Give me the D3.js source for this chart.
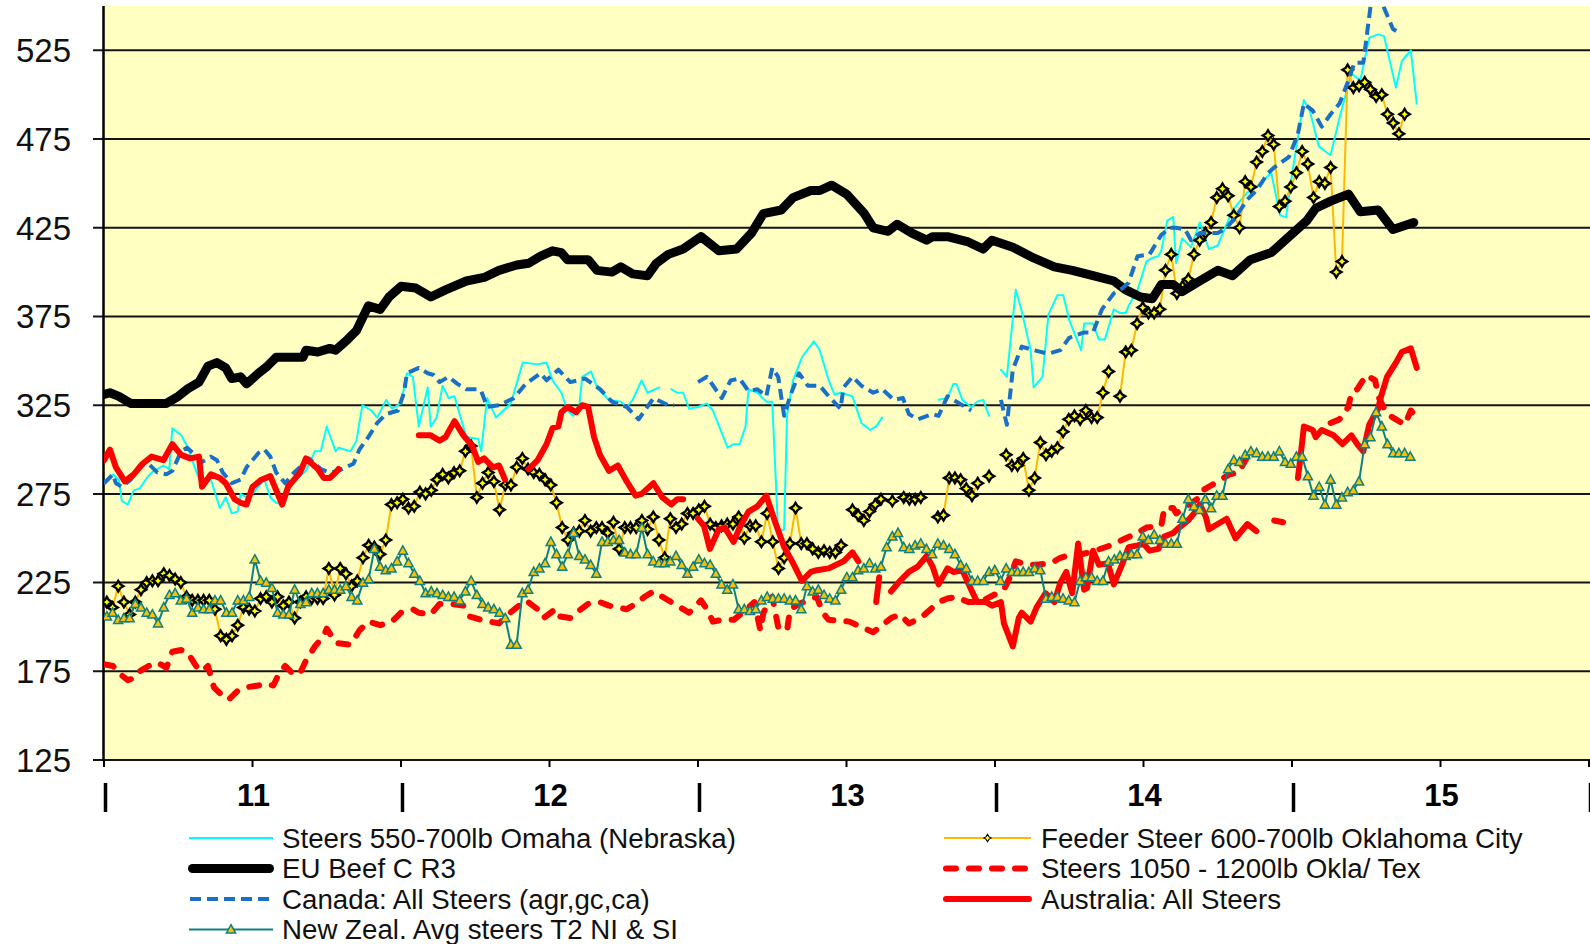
<!DOCTYPE html>
<html>
<head>
<meta charset="utf-8">
<title>Steer prices</title>
<style>
body { margin: 0; background: #fff; }
svg { display: block; font-family: "Liberation Sans", Arial, sans-serif; }
</style>
</head>
<body>
<svg id="chart" width="1590" height="944"></svg>
<script src="https://cdn.jsdelivr.net/npm/d3@7"></script>
<script>
// ---- data (year fraction, price) ; null = gap in the series ----
const omaha = [[2011.00,281],[2011.03,286],[2011.05,283],[2011.06,271],[2011.08,269],[2011.10,277],[2011.12,278],[2011.14,283],[2011.16,287],[2011.20,291],[2011.22,289],[2011.23,312],[2011.26,308],[2011.28,302],[2011.31,288],[2011.33,279],[2011.36,283],[2011.39,267],[2011.41,273],[2011.43,264],[2011.45,265],[2011.46,275],[2011.48,273],[2011.50,275],[2011.54,283],[2011.56,273],[2011.58,270],[2011.60,269],[2011.63,281],[2011.66,285],[2011.68,288],[2011.71,299],[2011.73,299],[2011.75,313],[2011.78,299],[2011.79,301],[2011.83,299],[2011.85,305],[2011.87,325],[2011.90,322],[2011.92,318],[2011.95,328],[2011.97,323],[2012.00,326],[2012.02,343],[2012.04,341],[2012.06,313],[2012.09,335],[2012.10,313],[2012.12,318],[2012.14,336],[2012.16,329],[2012.18,330],[2012.22,307],[2012.26,306],[2012.27,299],[2012.29,329],[2012.32,318],[2012.37,326],[2012.41,349],[2012.46,348],[2012.49,349],[2012.51,339],[2012.54,332],[2012.56,322],[2012.58,319],[2012.60,324],[2012.61,341],[2012.64,344],[2012.66,335],[2012.70,328],[2012.74,327],[2012.76,324],[2012.78,328],[2012.81,339],[2012.83,332],[2012.87,335],null,[2012.91,334],[2012.93,332],[2012.95,332],[2012.97,323],[2013.00,324],[2013.03,326],[2013.05,322],[2013.10,301],[2013.12,303],[2013.14,303],[2013.16,313],[2013.17,334],[2013.20,332],[2013.23,327],[2013.25,327],[2013.27,253],[2013.29,255],[2013.30,320],[2013.32,339],[2013.35,352],[2013.39,361],[2013.41,356],[2013.44,339],[2013.46,331],[2013.48,332],[2013.52,330],[2013.55,315],[2013.58,311],[2013.60,313],[2013.62,318],null,[2013.81,328],[2013.84,329],[2013.86,337],[2013.87,337],[2013.89,328],[2013.92,324],[2013.94,327],[2013.96,328],[2013.98,319],null,[2014.02,345],[2014.04,341],[2014.07,390],[2014.09,378],[2014.12,356],[2014.13,335],[2014.16,341],[2014.18,376],[2014.21,387],[2014.23,387],[2014.25,373],[2014.29,356],[2014.30,371],[2014.33,371],[2014.35,362],[2014.37,362],[2014.40,379],[2014.42,377],[2014.44,377],[2014.45,381],[2014.48,390],[2014.51,406],[2014.53,408],[2014.55,409],[2014.56,412],[2014.58,429],[2014.60,431],[2014.61,405],[2014.63,419],[2014.66,414],[2014.69,428],[2014.72,413],[2014.75,415],[2014.80,435],[2014.83,441],[2014.85,445],[2014.88,448],[2014.93,456],[2014.96,432],[2014.98,431],[2015.00,455],[2015.04,497],[2015.06,491],[2015.09,471],[2015.12,467],[2015.13,466],[2015.16,487],[2015.20,512],[2015.23,508],[2015.26,532],[2015.29,534],[2015.31,533],[2015.35,504],[2015.37,519],[2015.40,525],[2015.42,495]];

const euBeef = [[2011.00,331],[2011.02,332],[2011.05,330],[2011.09,326],[2011.12,326],[2011.16,326],[2011.21,326],[2011.25,330],[2011.28,334],[2011.32,338],[2011.35,347],[2011.38,349],[2011.41,346],[2011.43,340],[2011.46,341],[2011.48,337],[2011.52,343],[2011.55,347],[2011.58,352],[2011.67,352],[2011.68,356],[2011.72,355],[2011.76,357],[2011.78,356],[2011.82,362],[2011.85,367],[2011.89,381],[2011.93,379],[2011.96,386],[2012.00,392],[2012.05,391],[2012.10,386],[2012.15,390],[2012.22,395],[2012.28,397],[2012.33,401],[2012.39,404],[2012.43,405],[2012.47,409],[2012.51,412],[2012.54,411],[2012.56,407],[2012.63,407],[2012.66,401],[2012.71,400],[2012.74,403],[2012.78,399],[2012.83,398],[2012.86,405],[2012.90,410],[2012.95,413],[2013.01,420],[2013.07,412],[2013.13,413],[2013.18,422],[2013.22,433],[2013.28,435],[2013.32,442],[2013.38,446],[2013.41,446],[2013.45,449],[2013.50,444],[2013.56,433],[2013.59,425],[2013.64,423],[2013.67,427],[2013.72,422],[2013.77,418],[2013.79,420],[2013.84,420],[2013.91,417],[2013.96,413],[2013.99,418],[2014.06,414],[2014.13,408],[2014.20,403],[2014.26,401],[2014.33,398],[2014.40,395],[2014.44,390],[2014.49,386],[2014.53,385],[2014.56,393],[2014.60,393],[2014.63,389],[2014.69,395],[2014.75,401],[2014.80,398],[2014.86,407],[2014.93,411],[2014.99,420],[2015.05,429],[2015.08,436],[2015.13,440],[2015.19,444],[2015.23,434],[2015.29,435],[2015.34,424],[2015.41,428]];

const canada = [[2011.00,281],[2011.03,286],[2011.04,281],[2011.06,279],[2011.09,283],[2011.12,291],[2011.15,292],[2011.18,287],[2011.21,286],[2011.23,288],[2011.26,299],[2011.28,301],[2011.30,298],[2011.33,293],[2011.36,296],[2011.38,294],[2011.40,287],[2011.43,281],[2011.46,283],[2011.48,290],[2011.52,298],[2011.54,300],[2011.56,296],[2011.58,287],[2011.61,281],[2011.64,287],[2011.66,290],[2011.69,295],[2011.73,289],[2011.76,287],[2011.79,288],[2011.84,292],[2011.86,300],[2011.89,307],[2011.92,315],[2011.95,320],[2011.99,322],[2012.01,332],[2012.02,343],[2012.06,346],[2012.09,343],[2012.11,342],[2012.13,338],[2012.16,341],[2012.19,337],[2012.22,334],[2012.26,334],[2012.27,333],[2012.29,324],[2012.33,325],[2012.38,329],[2012.42,337],[2012.47,343],[2012.49,339],[2012.53,345],[2012.57,338],[2012.62,340],[2012.67,334],[2012.71,327],[2012.76,324],[2012.80,317],[2012.85,329],[2012.90,325],[2012.92,325],null,[2013.00,338],[2013.03,341],[2013.08,329],[2013.11,339],[2013.14,340],[2013.17,333],[2013.20,334],[2013.23,330],[2013.25,346],[2013.27,341],[2013.29,319],[2013.31,330],[2013.34,343],[2013.37,336],[2013.41,336],[2013.44,330],[2013.48,323],[2013.49,335],[2013.52,341],[2013.55,336],[2013.59,332],[2013.62,334],[2013.66,328],[2013.69,329],[2013.71,320],[2013.74,317],[2013.79,320],[2013.81,319],[2013.84,330],[2013.88,326],[2013.92,322],null,[2014.02,328],[2014.04,314],[2014.06,345],[2014.09,358],[2014.13,356],[2014.18,354],[2014.22,356],[2014.25,363],[2014.30,366],[2014.33,366],[2014.36,379],[2014.40,388],[2014.43,391],[2014.45,394],[2014.48,409],[2014.52,410],[2014.56,421],[2014.59,425],[2014.61,425],[2014.64,424],[2014.66,418],[2014.69,422],[2014.75,422],[2014.78,425],[2014.81,431],[2014.85,441],[2014.88,446],[2014.92,456],[2014.94,459],[2014.99,465],[2015.02,478],[2015.04,495],[2015.07,491],[2015.10,482],[2015.13,489],[2015.16,495],[2015.19,508],[2015.21,518],[2015.24,518],[2015.28,570],[2015.31,549],[2015.34,537],[2015.36,535]];

const oklaTex = [[2011.00,179],[2011.03,178],[2011.05,174],[2011.08,170],[2011.10,171],[2011.12,175],[2011.15,178],[2011.18,180],[2011.21,177],[2011.23,186],[2011.26,187],[2011.28,186],[2011.31,178],[2011.33,175],[2011.35,178],[2011.37,166],[2011.40,161],[2011.42,159],[2011.45,164],[2011.48,166],[2011.52,167],[2011.54,168],[2011.57,167],[2011.59,174],[2011.61,178],[2011.64,173],[2011.66,174],[2011.68,181],[2011.71,189],[2011.74,195],[2011.75,199],[2011.78,191],[2011.83,190],[2011.86,198],[2011.89,203],[2011.93,201],[2011.97,203],[2012.00,208],[2012.04,210],[2012.06,208],[2012.10,207],[2012.13,213],[2012.17,213],[2012.21,212],[2012.23,206],[2012.27,204],[2012.30,203],[2012.33,202],[2012.36,207],[2012.39,211],[2012.42,215],[2012.46,210],[2012.48,205],[2012.52,210],[2012.53,206],[2012.57,205],[2012.59,208],[2012.63,213],[2012.67,214],[2012.70,212],[2012.73,211],[2012.76,210],[2012.79,213],[2012.82,217],[2012.85,220],[2012.88,217],[2012.91,214],[2012.95,210],[2012.97,208],[2013.01,215],[2013.03,210],[2013.05,203],[2013.08,204],[2013.12,204],[2013.15,208],[2013.19,214],[2013.21,198],[2013.22,208],[2013.25,217],[2013.27,200],[2013.30,198],[2013.31,210],[2013.34,213],[2013.37,215],[2013.40,217],[2013.42,208],[2013.44,204],[2013.51,203],[2013.55,200],[2013.59,197],[2013.62,201],[2013.65,205],[2013.68,207],[2013.71,202],[2013.75,205],[2013.81,214],[2013.84,216],[2013.87,217],[2013.91,214],[2013.95,214],[2014.03,221],[2014.05,228],[2014.07,237],[2014.11,235],[2014.14,235],[2014.19,236],[2014.22,239],[2014.24,240],[2014.29,241],[2014.32,242],[2014.39,246],[2014.44,250],[2014.48,253],[2014.51,256],[2014.56,257],[2014.57,267],[2014.60,267],[2014.61,264],[2014.68,272],[2014.69,276],[2014.73,280],[2014.76,283],[2014.79,286],[2014.82,287],[2014.85,296],[2014.88,299],null,[2015.13,315],[2015.16,317],[2015.19,324],[2015.20,332],[2015.22,334],[2015.25,342],[2015.28,339],[2015.29,330],[2015.32,320],[2015.35,317],[2015.38,314],[2015.40,322],[2015.42,318]];

const australia = [[2011.00,294],[2011.02,300],[2011.04,290],[2011.07,282],[2011.10,286],[2011.13,292],[2011.16,296],[2011.20,294],[2011.23,303],[2011.26,297],[2011.29,295],[2011.32,296],[2011.33,279],[2011.36,286],[2011.39,284],[2011.41,281],[2011.44,272],[2011.46,270],[2011.48,269],[2011.50,279],[2011.53,283],[2011.56,285],[2011.58,277],[2011.60,269],[2011.62,279],[2011.64,283],[2011.66,287],[2011.68,295],[2011.70,292],[2011.72,289],[2011.74,284],[2011.76,284],[2011.78,287],[2011.79,289],null,[2012.06,308],[2012.10,308],[2012.13,305],[2012.15,307],[2012.18,316],[2012.21,308],[2012.24,302],[2012.26,293],[2012.28,295],[2012.31,290],[2012.33,291],[2012.35,283],null,[2012.43,289],[2012.46,294],[2012.49,303],[2012.51,312],[2012.53,313],[2012.54,321],[2012.56,324],[2012.59,321],[2012.61,325],[2012.63,324],[2012.65,307],[2012.67,297],[2012.70,288],[2012.73,291],[2012.76,282],[2012.79,274],[2012.81,275],[2012.85,281],[2012.88,273],[2012.91,269],[2012.93,272],[2012.95,272],null,[2013.00,261],[2013.02,257],[2013.04,244],[2013.07,255],[2013.09,256],[2013.12,248],[2013.14,256],[2013.17,265],[2013.20,268],[2013.23,274],[2013.26,259],[2013.29,245],[2013.32,236],[2013.35,226],[2013.38,231],[2013.40,232],[2013.44,233],[2013.49,237],[2013.52,242],[2013.54,237],null,[2013.60,214],[2013.61,228],null,[2013.65,220],[2013.68,226],[2013.71,231],[2013.74,234],[2013.77,240],[2013.79,234],[2013.81,224],[2013.84,233],[2013.86,231],[2013.89,232],[2013.92,221],[2013.94,214],[2013.97,214],[2013.99,212],[2014.02,214],[2014.03,202],[2014.06,189],[2014.08,205],[2014.09,208],[2014.12,203],[2014.14,211],[2014.17,219],[2014.20,214],[2014.22,225],[2014.24,231],[2014.26,219],[2014.28,247],[2014.30,221],[2014.31,222],[2014.33,243],[2014.35,235],[2014.38,236],[2014.40,224],[2014.43,236],[2014.45,245],[2014.48,246],[2014.50,247],[2014.52,243],[2014.55,244],[2014.57,251],[2014.60,253],[2014.62,256],[2014.65,260],[2014.67,264],[2014.69,269],[2014.71,262],[2014.72,255],[2014.75,258],[2014.78,261],[2014.81,250],[2014.85,258],[2014.88,254],null,[2014.94,260],[2014.97,259],null,[2015.02,284],[2015.03,298],[2015.04,313],[2015.07,311],[2015.08,307],[2015.10,311],[2015.14,308],[2015.17,303],[2015.20,308],[2015.22,303],[2015.24,299],[2015.26,314],[2015.29,323],[2015.30,330],[2015.32,341],[2015.35,349],[2015.37,355],[2015.40,357],[2015.42,346]];

// weekly series (one value per week from the first week of 2011)
const newZealandWeekly = [206,208,204,205,205,213,211,208,207,202,211,218,219,215,216,208,211,210,210,215,215,208,208,215,215,217,238,226,225,222,208,207,207,221,213,214,219,219,219,221,221,221,223,217,215,225,227,244,234,232,233,237,243,236,230,226,219,220,219,218,217,217,215,220,226,218,213,211,210,208,205,190,190,219,221,231,233,236,248,241,234,241,253,240,238,235,230,248,248,249,249,242,241,241,256,241,237,236,236,237,240,235,230,234,238,236,235,230,224,221,224,210,210,209,210,215,217,216,216,216,215,215,210,223,220,221,218,216,215,221,228,228,232,233,236,233,234,245,251,253,245,244,246,247,244,241,247,246,244,241,235,233,226,226,226,231,232,226,233,231,231,231,231,233,232,216,217,217,216,215,214,226,228,228,226,226,237,238,240,240,241,241,251,249,252,249,247,247,247,261,272,268,266,272,267,274,274,289,294,293,297,299,298,296,296,296,299,293,292,296,296,285,274,279,269,283,269,273,276,277,282,303,307,321,313,303,298,298,298,296];

const oklahomaCityWeekly = [214,211,223,214,207,214,221,225,226,226,230,229,227,225,217,215,215,215,215,210,195,193,195,201,211,210,209,216,217,214,217,212,214,205,214,217,216,216,216,233,218,233,230,223,226,239,246,245,241,249,269,270,272,267,268,276,275,277,283,286,284,287,288,299,302,273,281,287,282,266,280,280,290,295,289,287,286,283,280,270,256,249,253,254,260,254,256,256,253,259,244,256,256,256,260,255,262,249,239,261,256,258,264,264,266,268,258,256,257,258,258,262,250,257,257,248,264,248,233,239,247,267,247,247,244,242,243,242,242,246,null,266,263,260,265,269,272,null,271,null,273,272,272,273,null,null,262,263,284,284,283,278,274,281,null,285,null,null,297,291,291,295,277,284,304,297,299,301,310,317,319,317,322,318,318,332,344,null,330,355,356,371,380,377,377,379,401,410,388,392,396,410,418,422,428,442,447,443,432,425,451,448,462,468,477,472,437,440,448,456,468,461,442,451,450,459,400,406,514,504,505,507,503,499,500,489,484,478,489];

const yTicks = [125, 175, 225, 275, 325, 375, 425, 475, 525];
const yearLabels = ["11", "12", "13", "14", "15"];

// ---- layout ----
const svg = d3.select("#chart");
const plot = { left: 104, right: 1589, top: 6, bottom: 760 };
const x = d3.scaleLinear().domain([2011, 2016]).range([plot.left, plot.right]);
const y = d3.scaleLinear().domain([125, 550]).range([plot.bottom, plot.top]);

const weeklyToPairs = arr => arr.map((v, i) => v === null ? null : [2011 + (i + 0.5) / 52.18, v]);
const newZealand = weeklyToPairs(newZealandWeekly);
const oklahomaCity = weeklyToPairs(oklahomaCityWeekly);

svg.append("rect")
    .attr("x", plot.left).attr("y", plot.top)
    .attr("width", plot.right - plot.left + 1).attr("height", plot.bottom - plot.top)
    .attr("fill", "#FFFFC2");

svg.append("clipPath").attr("id", "plotClip")
  .append("rect")
    .attr("x", plot.left).attr("y", plot.top)
    .attr("width", plot.right - plot.left + 1).attr("height", plot.bottom - plot.top);

// gridlines + y labels
svg.append("g").selectAll("line")
    .data(yTicks)
    .enter().append("line")
    .attr("x1", 93).attr("x2", 1590)
    .attr("y1", d => y(d)).attr("y2", d => y(d))
    .attr("stroke", "#141414").attr("stroke-width", 2);

svg.append("g").selectAll("text")
    .data(yTicks)
    .enter().append("text")
    .attr("x", 71).attr("y", d => y(d))
    .attr("dy", "0.36em")
    .attr("text-anchor", "end")
    .style("font-size", "33px")
    .attr("fill", "#111")
    .text(d => d);

// axes lines
svg.append("line")
    .attr("x1", plot.left - 0.5).attr("x2", plot.left - 0.5)
    .attr("y1", plot.top).attr("y2", plot.bottom + 1)
    .attr("stroke", "#000").attr("stroke-width", 2.5);

svg.append("g").selectAll("line")
    .data(d3.range(2011, 2016.01, 0.5))
    .enter().append("line")
    .attr("x1", d => x(d)).attr("x2", d => x(d))
    .attr("y1", plot.bottom).attr("y2", plot.bottom + 7)
    .attr("stroke", "#000").attr("stroke-width", 2);

// year separators and labels
svg.append("g").selectAll("line")
    .data(d3.range(2011, 2017))
    .enter().append("line")
    .attr("x1", d => x(d) + 1.5).attr("x2", d => x(d) + 1.5)
    .attr("y1", 783).attr("y2", 812)
    .attr("stroke", "#000").attr("stroke-width", 3.5);

svg.append("g").selectAll("text")
    .data(yearLabels)
    .enter().append("text")
    .attr("x", (d, i) => x(2011.5 + i) + 1)
    .attr("y", 806)
    .attr("text-anchor", "middle")
    .style("font-size", "31px").style("font-weight", "bold")
    .text(d => d);

// ---- series ----
const line = d3.line()
    .defined(d => d !== null)
    .x(d => x(d[0]))
    .y(d => y(d[1]));

const series = [
  { name: "Steers 550-700lb Omaha (Nebraska)", data: omaha, color: "#00FFFF", width: 2 },
  { name: "Feeder Steer 600-700lb Oklahoma City", data: oklahomaCity, color: "#FFB800", width: 2, marker: "star" },
  { name: "EU Beef C R3", data: euBeef, color: "#000000", width: 9 },
  { name: "Steers 1050 - 1200lb Okla/ Tex", data: oklaTex, color: "#FF0000", width: 6, dash: "10,13" },
  { name: "Canada: All Steers (agr,gc,ca)", data: canada, color: "#1A6FC6", width: 4, dash: "11,6", cap: "butt" },
  { name: "Australia: All Steers", data: australia, color: "#FF0000", width: 6 },
  { name: "New Zeal. Avg steers T2 NI & SI", data: newZealand, color: "#0E8080", width: 2, marker: "triangle" }
];

const starPath = "M0,-5.3L2,-2L5.3,0L2,2L0,5.3L-2,2L-5.3,0L-2,-2Z";
const triPath = "M0,-4.8L4.6,3.6L-4.6,3.6Z";

const plotG = svg.append("g").attr("clip-path", "url(#plotClip)");

series.forEach(s => {
  plotG.append("path")
      .datum(s.data)
      .attr("d", line)
      .attr("fill", "none")
      .attr("stroke", s.color)
      .attr("stroke-width", s.width)
      .attr("stroke-linejoin", "round")
      .attr("stroke-linecap", s.cap || "round")
      .attr("stroke-dasharray", s.dash || null);

  if (s.marker) {
    plotG.append("g").selectAll("path")
        .data(s.data.filter(d => d !== null))
        .enter().append("path")
        .attr("transform", d => `translate(${x(d[0])},${y(d[1])})`)
        .attr("d", s.marker === "star" ? starPath : triPath)
        .attr("fill", s.marker === "star" ? "#FFFF00" : "#FFC000")
        .attr("stroke", s.marker === "star" ? "#000" : "#0E8080")
        .attr("stroke-width", s.marker === "star" ? 2.3 : 1.5);
  }
});

// ---- legend ----
const legendRows = [
  { s: series[0], col: 0, row: 0 },
  { s: series[2], col: 0, row: 1 },
  { s: series[4], col: 0, row: 2 },
  { s: series[6], col: 0, row: 3 },
  { s: series[1], col: 1, row: 0 },
  { s: series[3], col: 1, row: 1 },
  { s: series[5], col: 1, row: 2 }
];
const cols = [{ x1: 188, x2: 274, tx: 282 }, { x1: 943, x2: 1032, tx: 1041 }];
const rowY = r => 838 + r * 30.5;

const legend = svg.append("g");
legendRows.forEach(item => {
  const c = cols[item.col], yy = rowY(item.row), s = item.s;
  legend.append("line")
      .attr("x1", c.x1 + s.width / 2).attr("x2", c.x2 - s.width / 2)
      .attr("y1", yy).attr("y2", yy)
      .attr("stroke", s.color).attr("stroke-width", s.width)
      .attr("stroke-linecap", s.cap || (s.width > 3 ? "round" : "butt"))
      .attr("stroke-dasharray", s.dash || null);
  if (s.marker) {
    const mx = (c.x1 + c.x2) / 2;
    legend.append("path")
        .attr("transform", `translate(${mx},${yy}) scale(${s.marker === "star" ? 0.7 : 1})`)
        .attr("d", s.marker === "star" ? starPath : triPath)
        .attr("fill", s.marker === "star" ? "#FFFF00" : "#FFC000")
        .attr("stroke", s.marker === "star" ? "#000" : "#0E8080")
        .attr("stroke-width", 1.5);
  }
  legend.append("text")
      .attr("x", c.tx).attr("y", yy)
      .attr("dy", "0.36em")
      .style("font-size", "27.7px")
      .attr("fill", "#111")
      .text(s.name);
});
</script>
</body>
</html>
